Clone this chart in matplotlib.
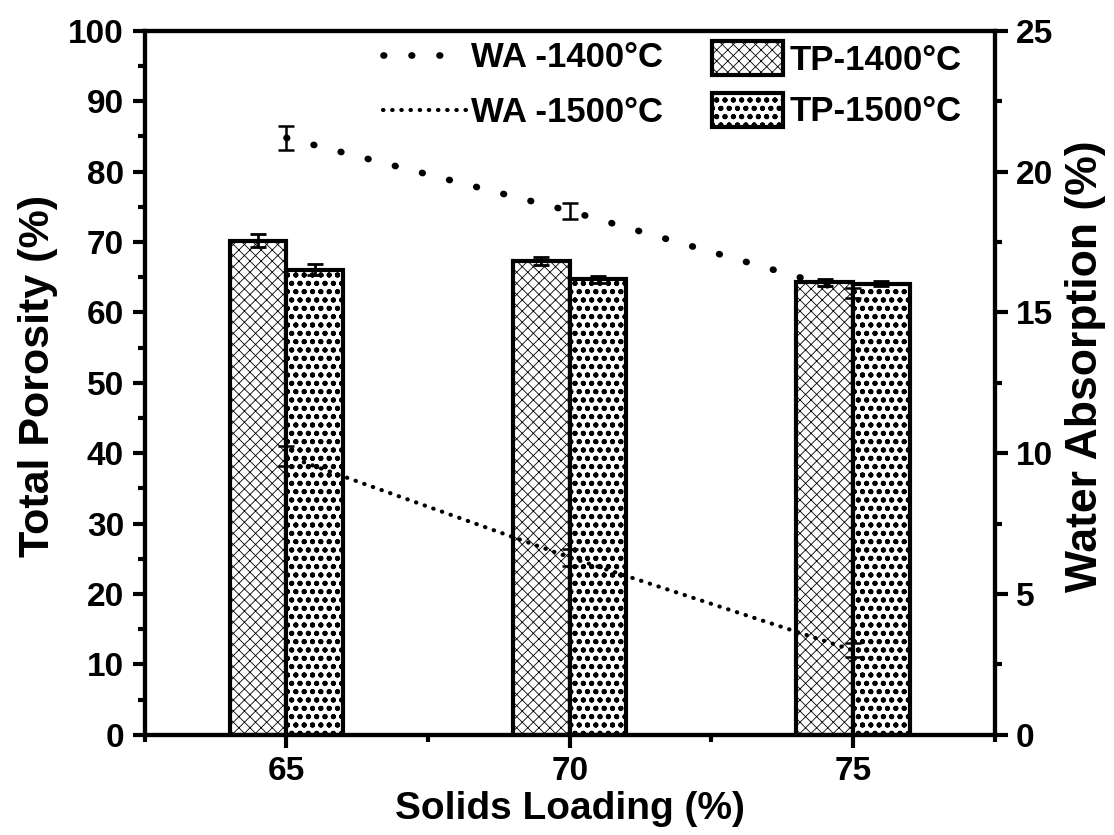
import numpy as np
import matplotlib
matplotlib.use("Agg")
import matplotlib.pyplot as plt
from matplotlib.ticker import MultipleLocator

# =========================
# DATA
# =========================
loading = [65, 70, 75]

tp_1400 = [70.2, 67.3, 64.3]
tp_1400_err = [0.9, 0.55, 0.5]
tp_1500 = [66.1, 64.7, 64.1]
tp_1500_err = [0.75, 0.5, 0.3]

wa_1400 = [21.2, 18.6, 15.7]
wa_1400_err = [0.43, 0.27, 0.18]
wa_1500 = [9.9, 6.3, 3.0]
wa_1500_err = [0.35, 0.3, 0.25]

plt.rcParams['font.family'] = ['Liberation Sans', 'DejaVu Sans']
plt.rcParams['font.weight'] = 'bold'
plt.rcParams['axes.labelweight'] = 'bold'

HATCH_LW_1400 = 0.6
HATCH_LW_1500 = 1.3


def hatch_lw(patch, lw):
    if hasattr(patch, 'set_hatch_linewidth'):
        patch.set_hatch_linewidth(lw)
    else:
        patch._hatch_linewidth = lw


fig = plt.figure(figsize=(11.14, 8.35), dpi=100)
ax = fig.add_axes([0.130, 0.120, 0.763, 0.843])
ax2 = ax.twinx()

x = np.array(loading)
w = 1.0

# =========================
# BARS (total porosity)
# =========================
b1 = ax.bar(x - w/2, tp_1400, w, facecolor='white', edgecolor='black',
            linewidth=3, hatch='///\\\\\\', label='TP-1400°C')
ax.errorbar(x - w/2, tp_1400, yerr=tp_1400_err, fmt='none', ecolor='black',
            elinewidth=2, capsize=5.5, capthick=2)

b2 = ax.bar(x + w/2, tp_1500, w, facecolor='white', edgecolor='black',
            linewidth=3, hatch='oo..', label='TP-1500°C')
ax.errorbar(x + w/2, tp_1500, yerr=tp_1500_err, fmt='none', ecolor='black',
            elinewidth=2, capsize=5.5, capthick=2)

for p in b1:
    hatch_lw(p, HATCH_LW_1400)
for p in b2:
    hatch_lw(p, HATCH_LW_1500)

# =========================
# LINES (water absorption)
# =========================
l1, = ax2.plot(x, wa_1400, color='black', lw=4.8, linestyle=(0, (0.1, 4.1)),
               dash_capstyle='round', label='WA -1400°C')
ax2.errorbar(x, wa_1400, yerr=wa_1400_err, fmt='none', ecolor='black',
             elinewidth=1.8, capsize=5.5, capthick=1.8)
l2, = ax2.plot(x, wa_1500, color='black', lw=3.0, linestyle=(0, (0.1, 2.1)),
               dash_capstyle='round', label='WA -1500°C')
ax2.errorbar(x, wa_1500, yerr=wa_1500_err, fmt='none', ecolor='black',
             elinewidth=1.8, capsize=5.5, capthick=1.8)

# =========================
# AXES
# =========================
ax.set_xlim(62.5, 77.5)
ax.set_ylim(0, 100)
ax2.set_ylim(0, 25)

ax.set_xticks(loading)
ax.xaxis.set_minor_locator(MultipleLocator(2.5))
ax.yaxis.set_major_locator(MultipleLocator(10))
ax.yaxis.set_minor_locator(MultipleLocator(5))
ax2.yaxis.set_major_locator(MultipleLocator(5))
ax2.yaxis.set_minor_locator(MultipleLocator(2.5))

for a in (ax, ax2):
    for s in a.spines.values():
        s.set_linewidth(3)
    a.tick_params(which='major', direction='out', length=9, width=3,
                  labelsize=24, pad=6)
    a.tick_params(which='minor', direction='out', length=5, width=3)

ax.tick_params(top=False, right=False, which='both')
ax2.tick_params(left=False, which='both')

ax.set_xlabel('Solids Loading (%)', fontsize=28, labelpad=3)
ax.set_ylabel('Total Porosity (%)', fontsize=31)
ax2.set_ylabel('Water Absorption (%)', fontsize=32)
ax.yaxis.set_label_coords(-0.102, 0.51)
ax2.yaxis.set_label_coords(1.082, 0.523)

leg1 = ax2.legend(handles=[l1, l2], loc='upper left',
                  bbox_to_anchor=(0.28, 0.985), frameon=False, fontsize=25,
                  handlelength=2.4, handletextpad=0.15, labelspacing=0.62,
                  borderpad=0, borderaxespad=0)
ax2.add_artist(leg1)
leg2 = ax2.legend(handles=[b1, b2], loc='upper left',
                  bbox_to_anchor=(0.667, 0.985), frameon=False, fontsize=25,
                  handlelength=2.05, handleheight=1.12, handletextpad=0.2,
                  labelspacing=0.45, borderpad=0, borderaxespad=0)
lh = leg2.legend_handles
hatch_lw(lh[0], HATCH_LW_1400)
hatch_lw(lh[1], HATCH_LW_1500)

fig.savefig('out.png', dpi=100)
